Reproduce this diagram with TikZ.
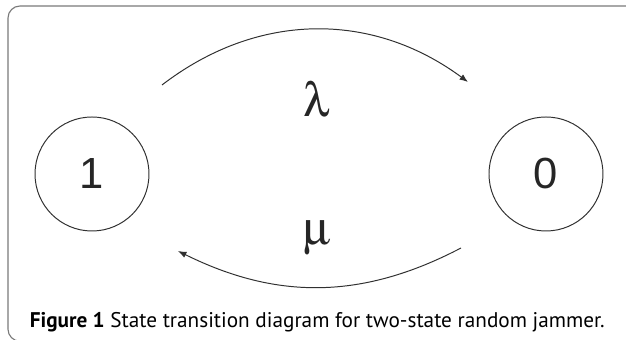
\documentclass[tikz,border=0pt]{standalone}
\usepackage{fontspec}
\usepackage[Symbol]{upgreek}
\setsansfont{PT Sans}
\newfontfamily\digitfont{Liberation Sans}
\usepackage{tikz}
\usetikzlibrary{arrows.meta,positioning}
\definecolor{framegray}{HTML}{7A7A7A}
\definecolor{inkgray}{HTML}{303030}

\begin{document}
\begin{tikzpicture}[
    state/.style={circle, draw=inkgray, line width=.7pt, minimum size=2.85cm,
      inner sep=0pt, text=black!85, font=\digitfont\fontsize{31}{31}\selectfont},
    rate/.style={inner sep=0pt, text=black!85, font=\fontsize{34}{34}\selectfont},
    flow/.style={-{Latex[length=2.1mm,width=1.6mm]}, line width=.7pt, color=inkgray}
  ]
    \useasboundingbox (0,0) rectangle (15.65,8.5);
    \clip (0,0) rectangle (15.65,8.5);
    \draw[framegray, line width=.8pt, rounded corners=.3cm]
      (.2,-.03) rectangle (16.2,8.35);

    \node[state] (one) at (2.3,4.15) {1};
    \node[state, right=8.475cm of one] (zero) {0};

    \coordinate (lamstart) at (4.05,6.375);
    \coordinate (lamend) at (11.7,6.45);
    \coordinate (mustart) at (11.525,2.3);
    \coordinate (muend) at (4.45,2.225);
    \draw[flow] (lamstart) to[bend left=37] (lamend);
    \draw[flow] (mustart) to[bend left=27] (muend);
    \node[rate] (lambda) at (7.925,6.0) {$\uplambda$};
    \node[rate] (mu) at (7.925,2.54) {$\upmu$};

    \node[anchor=base west, font=\sffamily\fontsize{15.1}{18}\selectfont]
      (caption) at (.62,.3)
      {\textbf{Figure 1} State transition diagram for two-state random jammer.};
  \end{tikzpicture}
\end{document}
